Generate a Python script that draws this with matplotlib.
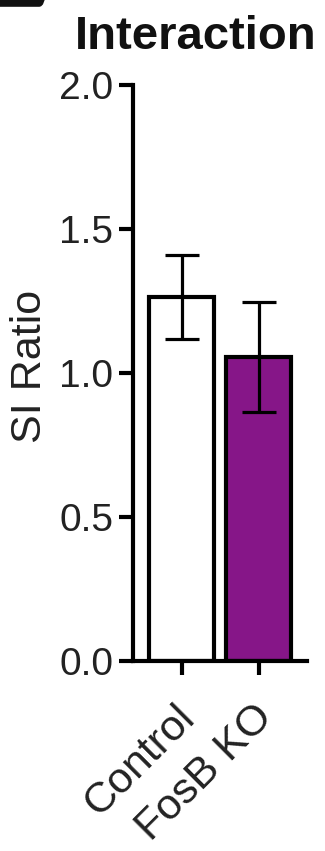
import matplotlib
matplotlib.use("Agg")
import matplotlib.pyplot as plt
import matplotlib.transforms as mtransforms
from matplotlib.patches import FancyBboxPatch

plt.rcParams['font.family'] = ['Liberation Sans', 'DejaVu Sans']

groups = ["Control", "FosB KO"]
means = [1.264, 1.056]
sems = [0.145, 0.19]
colors = ["white", "#861688"]

fig = plt.figure(figsize=(3.25, 8.51), dpi=100)
ax = fig.add_axes([0.409, 0.2233, 0.535, 0.6768])

x = [0, 1]
ax.bar(x, means, width=0.844, color=colors, edgecolor="black", linewidth=3, zorder=2)
ax.errorbar(x, means, yerr=sems, fmt="none", ecolor="black", elinewidth=2.3,
            capsize=12, capthick=2.3, zorder=3)

ax.set_xlim(-0.636, 1.623)
ax.set_ylim(0, 2.0)
ax.set_yticks([0.0, 0.5, 1.0, 1.5, 2.0])
ax.set_yticklabels(["0.0", "0.5", "1.0", "1.5", "2.0"])
ax.set_xticks(x)
ax.set_xticklabels(groups, rotation=45, ha="right", rotation_mode="anchor")

for s in ["top", "right"]:
    ax.spines[s].set_visible(False)
for s in ["left", "bottom"]:
    ax.spines[s].set_linewidth(3)
ax.tick_params(axis="both", width=3, length=10, color="black", labelcolor="#222222")
ax.tick_params(axis="y", pad=4, labelsize=28)
ax.tick_params(axis="x", pad=16, labelsize=31)

# nudge the rotated labels a little to the left
shift = mtransforms.ScaledTranslation(-7 / 100, 0, fig.dpi_scale_trans)
for lab in ax.get_xticklabels():
    lab.set_transform(lab.get_transform() + shift)

fig.text(30 / 325, 1 - 366 / 851, "SI Ratio", fontsize=31, rotation=90,
         ha="center", va="center", color="#222222")

fig.text(0.603, 0.957, "Interaction", fontsize=34, fontweight="bold",
         ha="center", va="center", color="#111111")

# leftover panel tab in the corner
fig.patches.append(FancyBboxPatch((-0.05, 0.992), 0.19, 0.03, boxstyle="round,pad=0,rounding_size=0.02",
                                  transform=fig.transFigure, facecolor="#111111",
                                  edgecolor="none"))

fig.savefig("out.png", dpi=100)
